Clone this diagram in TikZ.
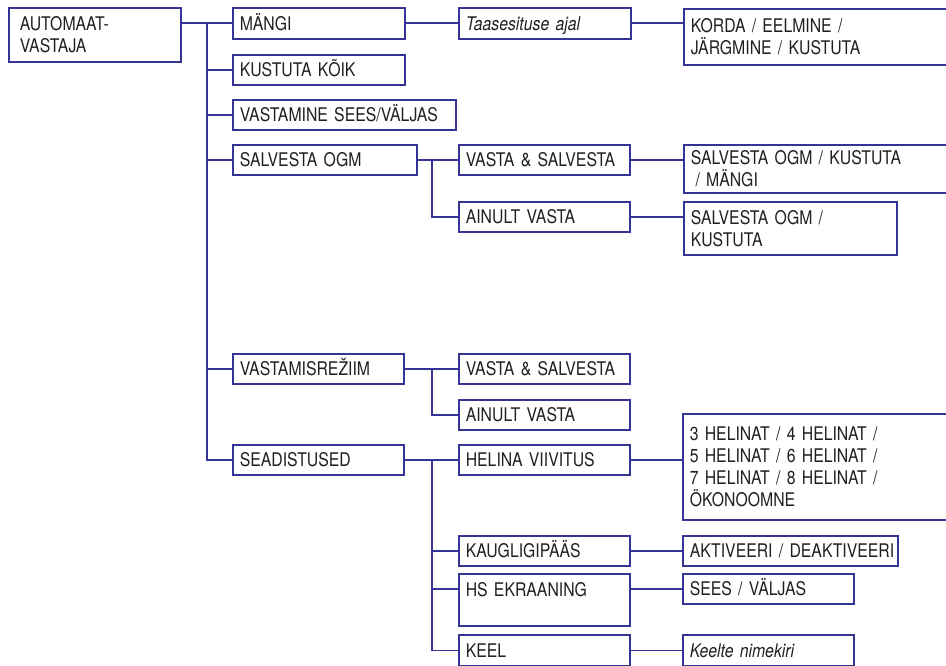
\documentclass[tikz,border=0pt]{standalone}
\usepackage{fontspec}
\setmainfont{TeX Gyre Heros}[FakeStretch=0.84]
\definecolor{ln}{RGB}{52,52,150}
\definecolor{tx}{RGB}{35,31,32}
\tikzset{
  box/.style={draw=ln, line width=1.6pt, anchor=north west, inner xsep=7pt, inner ysep=0pt,
    align=left, text=tx, font=\fontsize{18.8}{21.8}\selectfont},
  one/.style={text height=13.5pt, text depth=0pt},
  conn/.style={draw=ln, line width=1.6pt},
}
\begin{document}
\begin{tikzpicture}[x=1pt,y=-1pt]
\clip (0,0) rectangle (946,666);
% column 0
\node[box,inner xsep=11pt,text width=150pt,minimum height=54pt] (auto) at (8,7) {AUTOMAAT-\\VASTAJA};
% column 1
\node[box,one,text width=158pt,minimum height=31pt] (mangi) at (232,7) {MÄNGI};
\node[box,one,text width=158pt,minimum height=30pt] (kk) at (232,54) {KUSTUTA KÕIK};
\node[box,one,text width=209pt,minimum height=30pt] (vsv) at (232,99) {\mbox{VASTAMINE SEES/VÄLJAS}};
\node[box,one,text width=170pt,minimum height=30pt] (salv) at (232,144) {SALVESTA OGM};
\node[box,one,text width=157pt,minimum height=30pt] (vrez) at (232,353) {VASTAMISREŽIIM};
\node[box,one,text width=157pt,minimum height=30pt] (sead) at (232,444) {SEADISTUSED};
% column 2
\node[box,one,text width=158pt,minimum height=31pt] (taas) at (458,7) {\itshape Taasesituse ajal};
\node[box,one,text width=157pt,minimum height=30pt] (vs1) at (458,144) {VASTA \& SALVESTA};
\node[box,one,text width=157pt,minimum height=30pt] (av1) at (458,201) {AINULT VASTA};
\node[box,one,text width=157pt,minimum height=30pt] (vs2) at (458,353) {VASTA \& SALVESTA};
\node[box,one,text width=157pt,minimum height=30pt] (av2) at (458,399) {AINULT VASTA};
\node[box,one,text width=157pt,minimum height=30pt] (hv) at (458,444) {HELINA VIIVITUS};
\node[box,one,text width=157pt,minimum height=30pt] (kaug) at (458,535) {KAUGLIGIPÄÄS};
\node[box,text height=13.5pt,text depth=20pt,inner ysep=9.25pt,text width=157pt] (hs) at (458,573) {HS EKRAANING};
\node[box,one,text width=157pt,minimum height=31pt] (keel) at (458,634) {KEEL};
% column 3
\node[box,text width=263pt,minimum height=56pt] (korda) at (683,8) {KORDA / EELMINE /\\JÄRGMINE / KUSTUTA};
\node[box,text width=263pt,minimum height=48pt] (r1) at (683,144) {SALVESTA OGM / KUSTUTA\\\hspace{0.25em}/ MÄNGI};
\node[box,text width=199pt,minimum height=53pt] (r2) at (683,201) {SALVESTA OGM /\\KUSTUTA};
\node[box,text width=264pt,minimum height=106pt] (hel) at (682,413) {3 HELINAT / 4 HELINAT /\\5 HELINAT / 6 HELINAT /\\7 HELINAT / 8 HELINAT /\\ÖKONOOMNE};
\node[box,one,text width=201pt,minimum height=30pt] (akt) at (682,535) {\mbox{AKTIVEERI / DEAKTIVEERI}};
\node[box,one,text width=157pt,minimum height=30pt] (sees) at (682,573) {SEES / VÄLJAS};
\node[box,one,text width=157pt,minimum height=31pt] (kn) at (682,634) {\itshape Keelte nimekiri};
% connectors
\coordinate (tr) at (207,0);
\coordinate (sb) at (432,0);
\draw[conn] (auto.east |- mangi.west) -- (mangi.west);
\draw[conn] (tr |- mangi.west) -- (tr |- sead.west) -- (sead.west);
\foreach \n in {kk,vsv,salv,vrez} \draw[conn] (tr |- \n.west) -- (\n.west);
\draw[conn] (mangi.east) -- (taas.west);
\draw[conn] (taas.east) -- (taas.east -| korda.west);
\draw[conn] (salv.east) -- (vs1.west);
\draw[conn] (sb |- vs1.west) -- (sb |- av1.west) -- (av1.west);
\draw[conn] (vs1.east) -- (vs1.east -| r1.west);
\draw[conn] (av1.east) -- (av1.east -| r2.west);
\draw[conn] (vrez.east) -- (vs2.west);
\draw[conn] (sb |- vs2.west) -- (sb |- av2.west) -- (av2.west);
\draw[conn] (sead.east) -- (hv.west);
\draw[conn] (sb |- hv.west) -- (sb |- keel.west) -- (keel.west);
\draw[conn] (sb |- kaug.west) -- (kaug.west);
\draw[conn] (sb |- sees.west) -- (sees.west -| hs.west);
\draw[conn] (hv.east) -- (hv.east -| hel.west);
\draw[conn] (kaug.east) -- (akt.west);
\draw[conn] (sees.west -| hs.east) -- (sees.west);
\draw[conn] (keel.east) -- (kn.west);
\end{tikzpicture}
\end{document}
